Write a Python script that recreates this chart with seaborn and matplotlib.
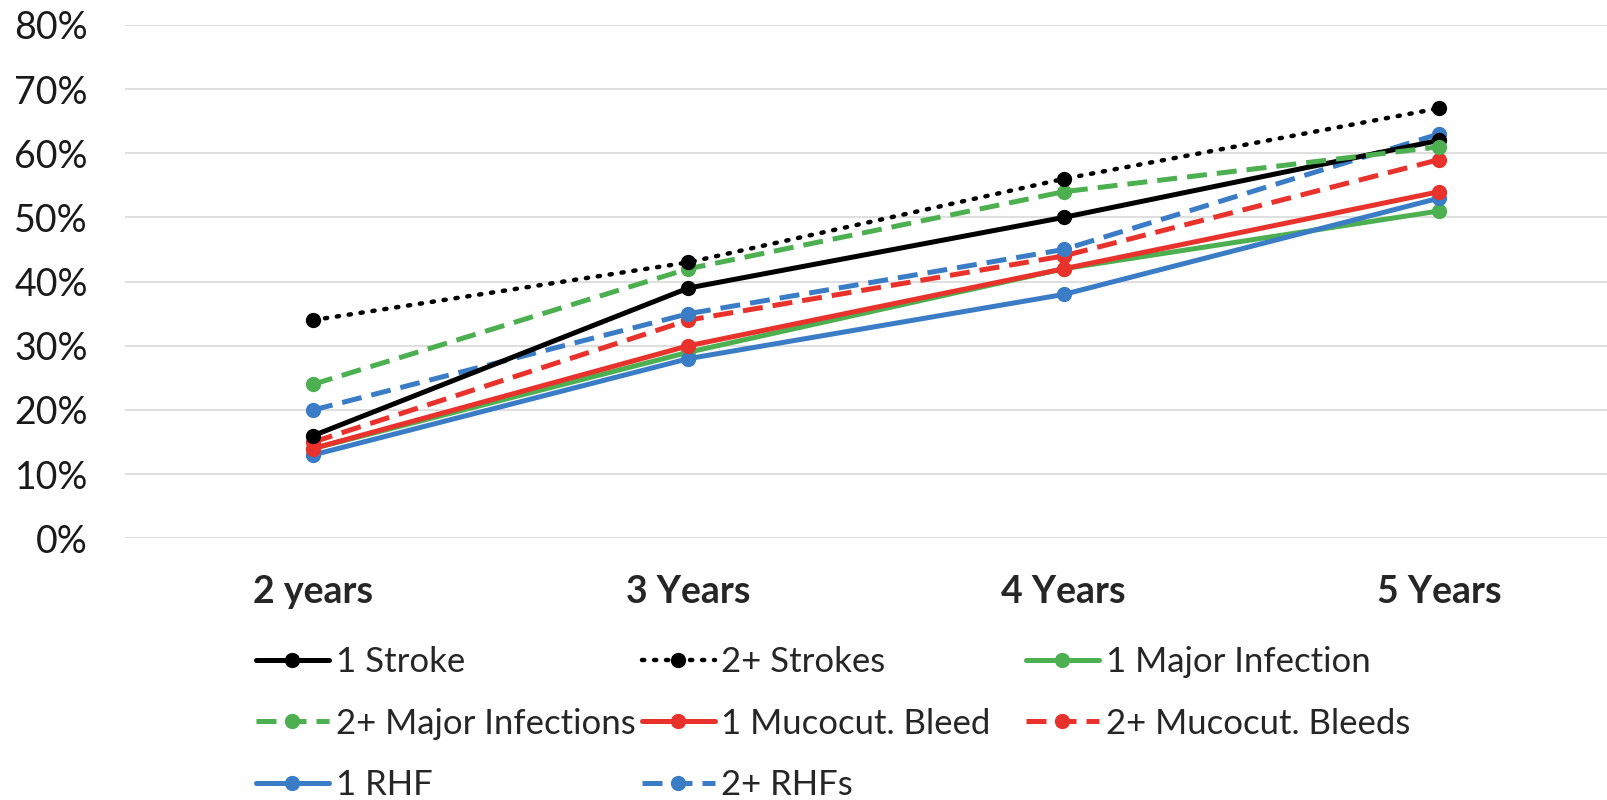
import matplotlib
matplotlib.use("Agg")
import matplotlib.pyplot as plt
import seaborn as sns
import pandas as pd
from matplotlib.ticker import PercentFormatter

sns.set_theme(style="whitegrid")
plt.rcParams['font.family'] = ['Lato', 'DejaVu Sans']

# ---------------- DATA ----------------
periods = ["2 years", "3 Years", "4 Years", "5 Years"]
series_names = ["1 Stroke", "2+ Strokes", "1 Major Infection", "2+ Major Infections",
                "1 Mucocut. Bleed", "2+ Mucocut. Bleeds", "1 RHF", "2+ RHFs"]
stroke_1 = [16, 39, 50, 62]
stroke_2 = [34, 43, 56, 67]
infection_1 = [14, 29, 42, 51]
infection_2 = [24, 42, 54, 61]
bleed_1 = [14, 30, 42, 54]
bleed_2 = [15, 34, 44, 59]
rhf_1 = [13, 28, 38, 53]
rhf_2 = [20, 35, 45, 63]
values = [stroke_1, stroke_2, infection_1, infection_2, bleed_1, bleed_2, rhf_1, rhf_2]

# ---------------- STYLES ----------------
BLACK, GREEN, RED, BLUE = "#000000", "#4CAF50", "#E8322B", "#3A7CC6"
styles = {
    "1 Stroke": (BLACK, "solid"),
    "2+ Strokes": (BLACK, "dotted"),
    "1 Major Infection": (GREEN, "solid"),
    "2+ Major Infections": (GREEN, "dashed"),
    "1 Mucocut. Bleed": (RED, "solid"),
    "2+ Mucocut. Bleeds": (RED, "dashed"),
    "1 RHF": (BLUE, "solid"),
    "2+ RHFs": (BLUE, "dashed"),
}
zorders = {"1 Major Infection": 3, "1 RHF": 4, "1 Mucocut. Bleed": 5, "2+ Mucocut. Bleeds": 6,
           "2+ RHFs": 7, "1 Stroke": 8, "2+ Major Infections": 9, "2+ Strokes": 10}

df = pd.DataFrame([
    {"period": p, "pos": i, "series": name, "value": v / 100}
    for name, vals in zip(series_names, values)
    for i, (p, v) in enumerate(zip(periods, vals))
])

fig = plt.figure(figsize=(16.08, 8), dpi=100)
ax = fig.add_axes([0.078, 0.327, 0.922, 0.642])

handles = {}
for name in series_names:
    color, ls = styles[name]
    sub = df[df.series == name]
    sns.lineplot(data=sub, x="pos", y="value", ax=ax, color=color, linewidth=3.6,
                 marker="o", markersize=11, markeredgewidth=0, zorder=zorders[name])
    line = ax.lines[-1]
    if ls == "dashed":
        line.set_dashes((4, 2))
    elif ls == "dotted":
        line.set_dashes((0.5, 2.2))
        line.set_dash_capstyle("round")
        line.set_linewidth(3.2)
    handles[name] = line

ax.set_xlim(-0.5, 3.45)
ax.set_ylim(0, 0.8)
ax.set_yticks([i / 10 for i in range(9)])
ax.yaxis.set_major_formatter(PercentFormatter(1.0, decimals=0))
ax.set_xticks(range(len(periods)))
ax.set_xticklabels(periods, fontweight="bold")
ax.tick_params(axis="x", labelsize=27, pad=26, length=0)
ax.tick_params(axis="y", labelsize=27, pad=27, length=0, labelcolor="#1a1a1a")
ax.grid(axis="y", color="#d9d9d9", linewidth=1.2)
ax.grid(axis="x", visible=False)
for s in ax.spines.values():
    s.set_visible(False)
ax.set_xlabel("")
ax.set_ylabel("")

# legend: three fixed-width columns, filled row by row
col_x = [0.159, 0.399, 0.638]
legends = []
for c in range(3):
    names = series_names[c::3]
    leg = fig.legend([handles[n] for n in names], names, frameon=False, fontsize=25,
                     loc="upper left", bbox_to_anchor=(col_x[c], 0.192),
                     handlelength=2.1, handletextpad=0.2, labelspacing=0.84,
                     borderpad=0, borderaxespad=0)
    legends.append(leg)

fig.savefig("out.png", dpi=100)
